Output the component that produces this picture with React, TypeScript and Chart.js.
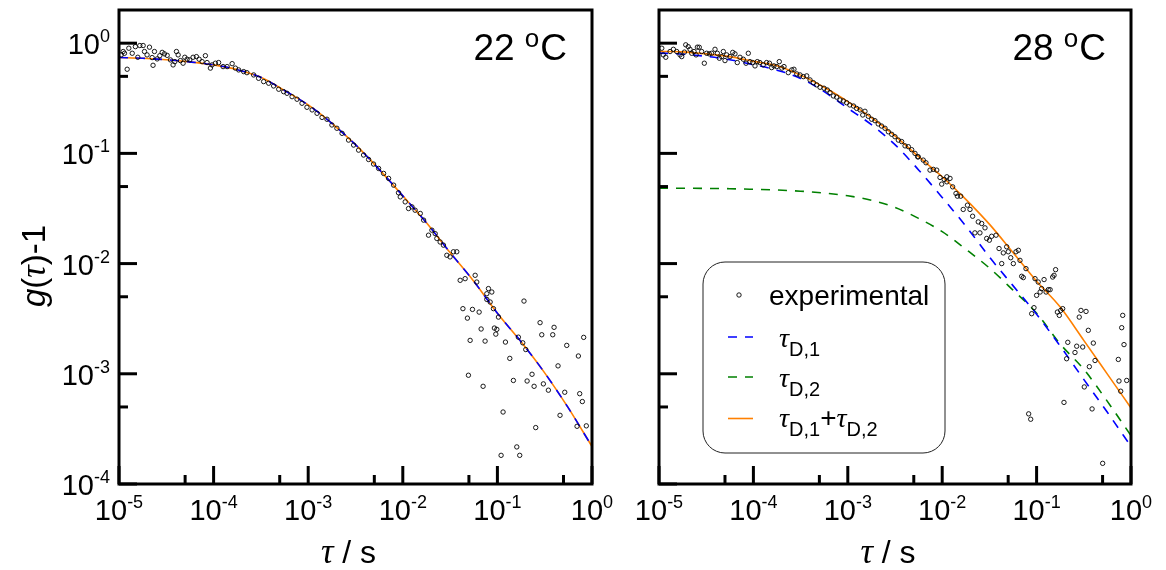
import { useEffect, useRef } from 'react';
import { Chart, registerables } from 'chart.js';
Chart.register(...registerables);

const SANS = '"Liberation Sans", Arial, Helvetica, sans-serif';
const SERIF = '"Liberation Serif", "Times New Roman", serif';

// axis ticks
const xMajor = [1e-5, 1e-4, 1e-3, 1e-2, 1e-1, 1];
const xMinor = [5e-5, 5e-4, 5e-3, 5e-2, 5e-1];
const xExp = ['-5', '-4', '-3', '-2', '-1', '0'];
const yMajor = [1, 1e-1, 1e-2, 1e-3, 1e-4];
const yMinor = [0.5, 0.05, 0.005, 5e-4];
const yExp = ['0', '-1', '-2', '-3', '-4'];

// fitted curves, sampled every quarter decade of tau
const curveTau = [1e-5, 1.78e-5, 3.16e-5, 5.62e-5, 1e-4, 1.78e-4, 3.16e-4, 5.62e-4, 1e-3, 1.78e-3, 3.16e-3, 5.62e-3, 1e-2, 1.78e-2, 3.16e-2, 5.62e-2, 1e-1, 0.178, 0.316, 0.562, 1];
const left22D1 = [0.741, 0.729, 0.708, 0.676, 0.635, 0.575, 0.49, 0.372, 0.275, 0.1875, 0.12, 0.0716, 0.0412, 0.02344, 0.01259, 0.00692, 0.00355, 0.00195, 0.00102, 4.9e-4, 2.19e-4];
const left22Sum = [0.741, 0.729, 0.708, 0.676, 0.635, 0.575, 0.49, 0.372, 0.275, 0.1875, 0.12, 0.0716, 0.0412, 0.02344, 0.01259, 0.00692, 0.00355, 0.00195, 0.00102, 4.9e-4, 2.19e-4];
const right28D1 = [0.813, 0.794, 0.759, 0.708, 0.638, 0.569, 0.479, 0.363, 0.257, 0.182, 0.12, 0.0708, 0.0398, 0.0219, 0.01148, 0.00631, 0.00347, 0.00178, 8.9e-4, 4.47e-4, 2.19e-4];
const right28D2 = [0.0484, 0.0483, 0.0481, 0.0478, 0.0472, 0.0465, 0.0454, 0.0437, 0.0412, 0.0376, 0.0324, 0.0257, 0.0195, 0.0135, 0.00912, 0.00575, 0.00355, 0.00186, 0.0011, 5.62e-4, 2.75e-4];
const right28Sum = [0.841, 0.834, 0.8, 0.755, 0.684, 0.624, 0.513, 0.398, 0.295, 0.211, 0.1445, 0.0933, 0.0614, 0.0383, 0.0228, 0.0126, 0.00692, 0.00403, 0.00201, 9.93e-4, 4.9e-4];

// experimental points, 22 C
const expTau22 = [
  1.054e-5, 1.107e-5, 1.143e-5, 1.22e-5, 1.27e-5, 1.38e-5, 1.49e-5, 1.58e-5, 1.66e-5, 1.8e-5,
  1.86e-5, 1.98e-5, 2.1e-5, 2.24e-5, 2.29e-5, 2.37e-5, 2.53e-5, 2.7e-5, 2.86e-5, 3.02e-5,
  3.23e-5, 3.5e-5, 3.73e-5, 3.89e-5, 4.05e-5, 4.22e-5, 4.46e-5, 4.76e-5, 4.96e-5, 5.25e-5,
  5.6e-5, 6.07e-5, 6.58e-5, 7.03e-5, 7.56e-5, 8.19e-5, 8.53e-5, 9.25e-5, 9.63e-5,
  1.045e-4, 1.13e-4, 1.26e-4, 1.39e-4, 1.57e-4, 1.7e-4, 1.84e-4, 2.08e-4, 2.25e-4, 2.65e-4,
  2.99e-4, 3.38e-4, 3.82e-4, 4.31e-4, 4.88e-4, 5.5e-4, 5.97e-4, 6.75e-4, 7.62e-4, 8.6e-4,
  9.7e-4, 1.1e-3, 1.24e-3, 1.4e-3, 1.58e-3, 1.78e-3, 2.01e-3, 2.28e-3, 2.67e-3, 3.02e-3,
  3.41e-3, 3.85e-3, 4.35e-3, 4.91e-3, 5.55e-3, 6.27e-3, 7.08e-3, 8.0e-3, 9.0e-3,
  9.4e-3, 1.06e-2, 1.15e-2, 1.25e-2, 1.35e-2, 1.53e-2, 1.66e-2, 1.87e-2, 2.03e-2, 2.2e-2,
  2.29e-2, 2.48e-2, 2.69e-2, 2.92e-2, 3.16e-2, 3.43e-2, 3.72e-2, 4.04e-2, 4.56e-2, 5.82e-2,
  6.05e-2, 7.73e-2, 8.04e-2, 8.73e-2, 9.08e-2, 0.1026, 4.32e-2, 4.82e-2, 5.45e-2, 6.41e-2,
  0.191, 5.15e-2, 4.94e-2, 6.73e-2, 7.41e-2, 7.06e-2, 9.29e-2, 9.86e-2, 9.62e-2, 0.1216,
  0.1352, 0.1476, 0.1148, 0.1094, 0.1603, 0.1722, 0.1667, 0.1854, 0.1995, 0.2323,
  0.2061, 0.2443, 0.2541, 0.2825, 0.2944, 0.3062, 0.3459, 0.3846, 0.3972, 0.4375,
  0.4592, 0.5152, 0.5408, 0.695, 0.7178, 0.7413, 0.7907, 0.8166, 0.871, 7.73e-2, 8.38e-2,
];
const expG22 = [
  0.783, 0.84, 0.81, 0.58, 0.9, 0.81, 0.93, 0.745, 0.952, 0.952,
  0.84, 0.783, 0.92, 0.74, 0.63, 0.84, 0.72, 0.77, 0.825, 0.8,
  0.775, 0.705, 0.635, 0.68, 0.84, 0.783, 0.695, 0.658, 0.745, 0.715,
  0.705, 0.745, 0.755, 0.715, 0.68, 0.77, 0.667, 0.594, 0.635,
  0.658, 0.667, 0.613, 0.613, 0.652, 0.594, 0.572, 0.552, 0.54, 0.515,
  0.48, 0.448, 0.433, 0.409, 0.382, 0.363, 0.351, 0.327, 0.31, 0.285,
  0.262, 0.248, 0.231, 0.212, 0.204, 0.181, 0.169, 0.152, 0.132, 0.119,
  0.107, 0.0966, 0.088, 0.08, 0.073, 0.0658, 0.0593, 0.0515, 0.0439,
  0.0403, 0.0363, 0.0316, 0.0327, 0.0305, 0.0285, 0.0248, 0.0181, 0.0201, 0.0187,
  0.0169, 0.0157, 0.0147, 0.0119, 0.0115, 0.0128, 0.0128, 0.00705, 0.0073, 0.00783,
  0.0068, 0.00533, 0.00593, 0.00552, 0.0039, 0.00327, 0.0039, 0.0032, 0.00384, 0.00363,
  0.00457, 0.00201, 9.7e-4, 0.00255, 0.00198, 7.7e-4, 0.0026, 0.00253, 0.00229, 0.00194,
  0.00138, 8.7e-4, 4.5e-4, 1.82e-4, 2.17e-4, 1.82e-4, 0.00215, 0.00191, 0.00166, 9.9e-4,
  8.6e-4, 7.7e-4, 3.25e-4, 0.00291, 0.00226, 8.1e-4, 7.1e-4, 0.00226, 0.00264, 0.00118,
  4.2e-4, 6.8e-4, 0.00181, 3.34e-4, 0.00145, 6.6e-4, 5.6e-4, 0.00214, 3.37e-4, 0.00473, 0.00448,
];

// experimental points, 28 C
const expTau28 = [
  1.07e-5, 1.11e-5, 1.18e-5, 1.31e-5, 1.42e-5, 1.54e-5, 1.67e-5, 1.74e-5, 1.86e-5, 1.92e-5,
  2.04e-5, 2.13e-5, 2.22e-5, 2.35e-5, 2.47e-5, 2.55e-5, 2.67e-5, 2.83e-5, 3.02e-5, 3.2e-5,
  3.41e-5, 3.61e-5, 3.92e-5, 4.15e-5, 4.36e-5, 4.62e-5, 4.8e-5, 5.0e-5, 5.21e-5, 5.65e-5,
  6.04e-5, 6.38e-5, 6.75e-5, 7.21e-5, 7.82e-5, 8.35e-5, 8.83e-5, 9.2e-5, 9.82e-5, 1.04e-4,
  1.1e-4, 1.17e-4, 1.27e-4, 1.38e-4, 1.48e-4, 1.56e-4, 1.65e-4, 1.77e-4, 1.88e-4, 2.0e-4,
  2.11e-4, 2.34e-4, 2.55e-4, 2.69e-4, 2.88e-4, 3.12e-4, 3.38e-4, 3.67e-4, 3.98e-4, 4.32e-4,
  4.69e-4, 5.08e-4, 5.6e-4, 6.07e-4, 6.48e-4, 7.03e-4, 7.62e-4, 8.27e-4, 8.97e-4, 9.73e-4,
  1.05e-3, 1.15e-3, 1.24e-3, 1.35e-3, 1.44e-3, 1.52e-3, 1.65e-3, 1.79e-3, 1.94e-3, 2.1e-3,
  2.28e-3, 2.48e-3, 2.69e-3, 2.92e-3, 3.16e-3, 3.43e-3, 3.72e-3, 4.04e-3, 4.38e-3, 4.75e-3,
  5.15e-3, 5.5e-3,
  5.58e-3, 6.3e-3, 6.73e-3, 7.43e-3, 8.05e-3, 8.75e-3, 9.48e-3, 1.05e-2, 1.12e-2, 1.21e-2,
  9.88e-3, 1.12e-2, 1.29e-2, 1.4e-2, 1.45e-2, 1.57e-2, 1.67e-2, 1.85e-2, 1.97e-2, 2.1e-2,
  2.22e-2, 2.41e-2, 2.51e-2, 2.62e-2, 2.84e-2, 2.96e-2, 3.16e-2, 3.34e-2, 3.72e-2, 4.0e-2,
  4.27e-2, 4.44e-2, 4.82e-2, 5.01e-2, 5.32e-2, 5.67e-2, 6.05e-2, 6.41e-2, 6.67e-2, 6.95e-2,
  7.23e-2, 7.72e-2, 8.87e-2, 9.38e-2, 9.62e-2, 0.1, 0.104, 0.109, 0.113, 0.12,
  0.126, 0.133, 0.139, 0.148, 0.153, 0.159, 0.166, 0.174, 0.18, 0.189,
  0.195, 0.208, 0.214, 0.255, 0.266, 0.283, 0.295, 0.308, 0.32, 0.334,
  0.353, 0.362, 0.387, 0.399, 0.416, 0.501, 0.734, 0.746, 0.778, 0.797,
  0.817, 0.843, 0.9, 8.24e-2, 8.66e-2,
];
const expG28 = [
  0.9, 0.783, 0.745, 0.84, 0.88, 0.84, 0.783, 0.755, 0.83, 0.966,
  0.93, 0.88, 0.81, 0.84, 0.783, 0.92, 0.918, 0.84, 0.658, 0.81,
  0.8, 0.81, 0.88, 0.81, 0.73, 0.755, 0.84, 0.695, 0.783, 0.755,
  0.825, 0.8, 0.667, 0.745, 0.715, 0.658, 0.81, 0.68, 0.667, 0.622,
  0.68, 0.667, 0.635, 0.667, 0.658, 0.6, 0.622, 0.613, 0.68, 0.594,
  0.613, 0.54, 0.572, 0.58, 0.526, 0.515, 0.497, 0.505, 0.464, 0.438,
  0.418, 0.398, 0.39, 0.376, 0.356, 0.332, 0.324, 0.305, 0.299, 0.288,
  0.275, 0.269, 0.256, 0.248, 0.223, 0.241, 0.217, 0.204, 0.198, 0.185,
  0.177, 0.169, 0.157, 0.149, 0.1416, 0.132, 0.128, 0.117, 0.115, 0.108,
  0.1, 0.093,
  0.0931, 0.0869, 0.0822, 0.0705, 0.0716, 0.0705, 0.0605, 0.058, 0.0613, 0.0593,
  0.0526, 0.0552, 0.0497, 0.0433, 0.0409, 0.0409, 0.031, 0.0339, 0.031, 0.0269,
  0.019, 0.0239, 0.019, 0.0231, 0.0211, 0.0169, 0.0163, 0.0177, 0.0181, 0.0137,
  0.01, 0.0125, 0.0142, 0.0128, 0.0113, 0.01, 0.0128, 0.0132, 0.0107, 0.00767,
  0.00746, 0.009, 0.00351, 0.00398, 0.0073, 0.00515, 0.0068, 0.00552, 0.00593, 0.00716,
  0.00552, 0.0058, 0.0058, 0.00755, 0.00783, 0.00881, 0.00363, 0.00339, 0.00376, 0.0039,
  5.5e-4, 0.00137, 0.00193, 0.00156, 0.00178, 0.00327, 0.00376, 0.00175, 7.6e-4, 0.00368,
  0.00248, 0.00116, 4.8e-4, 0.0019, 0.00132, 1.54e-4, 0.00135, 8.6e-4, 6.95e-4, 0.00262,
  0.00339, 0.00184, 8.7e-4, 4.33e-4, 3.87e-4,
];

const BLUE = '#0000ff';
const GREEN = '#008000';
const ORANGE = '#ff8000';

const pts = (xs: number[], ys: number[]) => xs.map((x, i) => ({ x, y: ys[i] }));

function drawPow(ctx: CanvasRenderingContext2D, exp: string, x: number, y: number, align: 'center' | 'right') {
  ctx.font = `29px ${SANS}`;
  const wb = ctx.measureText('10').width;
  ctx.font = `18px ${SANS}`;
  const we = ctx.measureText(exp).width;
  const x0 = align === 'center' ? x - (wb + we) / 2 : x - (wb + we);
  ctx.textAlign = 'left';
  ctx.textBaseline = 'alphabetic';
  ctx.font = `29px ${SANS}`;
  ctx.fillText('10', x0, y);
  ctx.font = `18px ${SANS}`;
  ctx.fillText(exp, x0 + wb, y - 12);
}

type Part = { t: string; f: string; dy?: number };
function drawParts(ctx: CanvasRenderingContext2D, parts: Part[], x: number, y: number, align: 'left' | 'center' | 'right') {
  ctx.textAlign = 'left';
  ctx.textBaseline = 'alphabetic';
  let total = 0;
  const ws = parts.map((p) => {
    ctx.font = p.f;
    const w = ctx.measureText(p.t).width;
    total += w;
    return w;
  });
  let cx = align === 'left' ? x : align === 'center' ? x - total / 2 : x - total;
  parts.forEach((p, i) => {
    ctx.font = p.f;
    ctx.fillText(p.t, cx, y + (p.dy || 0));
    cx += ws[i];
  });
}

type Cfg = { ox: number; yLabels: boolean; temp: string; legend: boolean };

function decor(cfg: Cfg) {
  return {
    id: 'decor',
    afterDraw(chart: any) {
      const { ctx, chartArea: a, scales } = chart;
      const xs = scales.x;
      const ys = scales.y;
      ctx.save();
      ctx.strokeStyle = '#000';
      ctx.fillStyle = '#000';
      ctx.lineCap = 'butt';
      ctx.lineWidth = 3;
      const seg = (x1: number, y1: number, x2: number, y2: number) => {
        ctx.beginPath();
        ctx.moveTo(x1, y1);
        ctx.lineTo(x2, y2);
        ctx.stroke();
      };
      xMajor.forEach((v) => { const p = xs.getPixelForValue(v); seg(p, a.bottom, p, a.bottom - 18); });
      xMinor.forEach((v) => { const p = xs.getPixelForValue(v); seg(p, a.bottom, p, a.bottom - 9); });
      yMajor.forEach((v) => { const p = ys.getPixelForValue(v); seg(a.left, p, a.left + 18, p); });
      yMinor.forEach((v) => { const p = ys.getPixelForValue(v); seg(a.left, p, a.left + 9, p); });
      ctx.strokeRect(a.left, a.top, a.right - a.left, a.bottom - a.top);

      // tick labels
      xMajor.forEach((v, i) => drawPow(ctx, xExp[i], xs.getPixelForValue(v), a.bottom + 36, 'center'));
      if (cfg.yLabels) {
        yMajor.forEach((v, i) => drawPow(ctx, yExp[i], a.left - 9, ys.getPixelForValue(v) + 11, 'right'));
      }

      // x title
      drawParts(ctx, [
        { t: 'τ', f: `italic 35px ${SERIF}` },
        { t: ' / s', f: `32px ${SANS}` },
      ], (a.left + a.right) / 2 - 7, 563, 'center');

      // y title
      if (cfg.yLabels) {
        ctx.save();
        ctx.translate(45, 266);
        ctx.rotate(-Math.PI / 2);
        drawParts(ctx, [
          { t: 'g', f: `italic 33px ${SANS}` },
          { t: '(', f: `33px ${SANS}` },
          { t: 'τ', f: `italic 35px ${SERIF}` },
          { t: ')-1', f: `33px ${SANS}` },
        ], 0, 0, 'center');
        ctx.restore();
      }

      // temperature label
      const tr = a.right - 25;
      ctx.font = `37px ${SANS}`;
      const wC = ctx.measureText('C').width;
      ctx.font = `26px ${SANS}`;
      const wo = ctx.measureText('o').width;
      ctx.font = `37px ${SANS}`;
      ctx.textAlign = 'left';
      ctx.fillText('C', tr - wC, 60);
      ctx.font = `26px ${SANS}`;
      ctx.fillText('o', tr - wC - wo - 1, 47);
      ctx.font = `37px ${SANS}`;
      ctx.textAlign = 'right';
      ctx.fillText(cfg.temp + ' ', tr - wC - wo - 1, 60);

      if (cfg.legend) {
        const o = cfg.ox;
        const L = 703 - o, R = 945 - o, T = 262, B = 453, r = 22;
        ctx.lineWidth = 1;
        ctx.strokeStyle = '#222';
        ctx.beginPath();
        ctx.moveTo(L + r, T);
        ctx.arcTo(R, T, R, B, r);
        ctx.arcTo(R, B, L, B, r);
        ctx.arcTo(L, B, L, T, r);
        ctx.arcTo(L, T, R, T, r);
        ctx.closePath();
        ctx.stroke();
        // marker
        ctx.strokeStyle = '#000';
        ctx.lineWidth = 0.9;
        ctx.beginPath();
        ctx.arc(739 - o, 295, 2.2, 0, Math.PI * 2);
        ctx.stroke();
        drawParts(ctx, [{ t: 'experimental', f: `28px ${SANS}` }], 769 - o, 305, 'left');
        const sample = (col: string, yy: number, dash: number[]) => {
          ctx.strokeStyle = col;
          ctx.lineWidth = 1.6;
          ctx.setLineDash(dash);
          seg(728 - o, yy, 753 - o, yy);
          ctx.setLineDash([]);
        };
        sample(BLUE, 337, [9, 8]);
        sample(GREEN, 377, [9, 8]);
        sample(ORANGE, 418.5, []);
        const tau = `italic 28px ${SERIF}`;
        const sub = `20px ${SANS}`;
        drawParts(ctx, [{ t: 'τ', f: tau }, { t: 'D,1', f: sub, dy: 9 }], 779 - o, 347, 'left');
        drawParts(ctx, [{ t: 'τ', f: tau }, { t: 'D,2', f: sub, dy: 9 }], 779 - o, 387, 'left');
        drawParts(ctx, [
          { t: 'τ', f: tau }, { t: 'D,1', f: sub, dy: 9 },
          { t: '+', f: `28px ${SANS}` },
          { t: 'τ', f: tau }, { t: 'D,2', f: sub, dy: 9 },
        ], 779 - o, 427, 'left');
      }
      ctx.restore();
    },
  };
}

function lineDs(data: number[], color: string, dash: number[], order: number) {
  return {
    data: pts(curveTau, data),
    showLine: true,
    borderColor: color,
    backgroundColor: color,
    borderWidth: 1.6,
    borderDash: dash,
    pointRadius: 0,
    fill: false,
    cubicInterpolationMode: 'monotone' as const,
    order,
  };
}

function pointDs(tau: number[], g: number[]) {
  return {
    data: pts(tau, g),
    showLine: false,
    pointRadius: 2.2,
    pointBorderWidth: 0.9,
    borderColor: '#000',
    backgroundColor: 'rgba(255,255,255,0)',
    pointBorderColor: '#000',
    pointBackgroundColor: 'rgba(255,255,255,0)',
    order: 0,
  };
}

function makeChart(canvas: HTMLCanvasElement, datasets: any[], pad: any, cfg: Cfg) {
  return new Chart(canvas, {
    type: 'scatter',
    data: { datasets },
    options: {
      responsive: false,
      animation: false,
      events: [],
      layout: { padding: pad },
      plugins: { legend: { display: false }, tooltip: { enabled: false } },
      scales: {
        x: { type: 'logarithmic', min: 1e-5, max: 1, display: false },
        y: { type: 'logarithmic', min: 1e-4, max: 2, display: false },
      },
    },
    plugins: [decor(cfg)],
  } as any);
}

export default function App() {
  const leftRef = useRef<HTMLCanvasElement>(null);
  const rightRef = useRef<HTMLCanvasElement>(null);

  useEffect(() => {
    const c1 = makeChart(
      leftRef.current!,
      [pointDs(expTau22, expG22), lineDs(left22D1, BLUE, [9, 8], 1), lineDs(left22Sum, ORANGE, [], 3)],
      { left: 119, right: 34, top: 10, bottom: 86 },
      { ox: 0, yLabels: true, temp: '22', legend: false },
    );
    const c2 = makeChart(
      rightRef.current!,
      [
        pointDs(expTau28, expG28),
        lineDs(right28D1, BLUE, [9, 8], 1),
        lineDs(right28D2, GREEN, [9, 8], 2),
        lineDs(right28Sum, ORANGE, [], 3),
      ],
      { left: 33, right: 35, top: 10, bottom: 86 },
      { ox: 626, yLabels: false, temp: '28', legend: true },
    );
    return () => {
      c1.destroy();
      c2.destroy();
    };
  }, []);

  return (
    <div style={{ position: 'absolute', left: 0, top: 0, width: 1166, height: 570, background: '#fff' }}>
      <canvas ref={leftRef} width={626} height={570} style={{ position: 'absolute', left: 0, top: 0 }} />
      <canvas ref={rightRef} width={540} height={570} style={{ position: 'absolute', left: 626, top: 0 }} />
    </div>
  );
}
